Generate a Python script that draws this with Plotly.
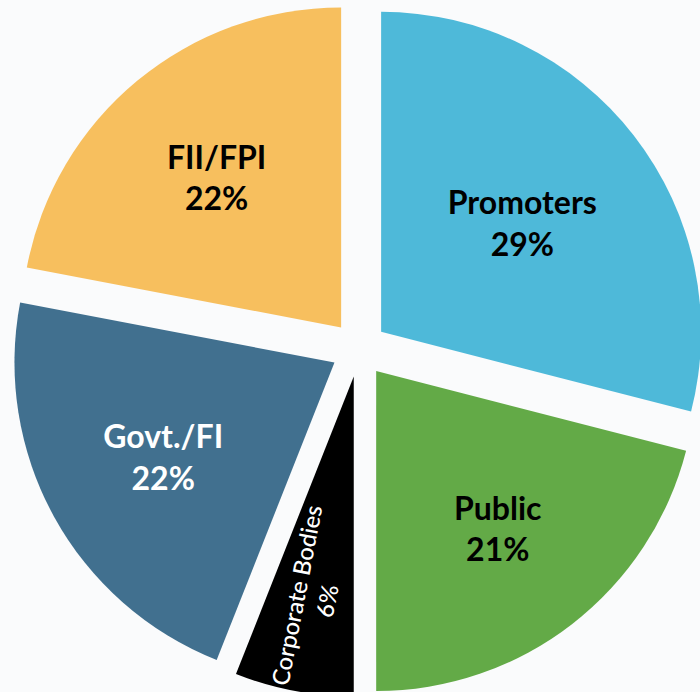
import plotly.graph_objects as go

# ---- data ----
labels = ["Promoters", "Public", "Corporate Bodies", "Govt./FI", "FII/FPI"]
values = [29, 21, 6, 22, 22]
colors = ["#4EB9D9", "#63AA47", "#000000", "#41708F", "#F7BF5E"]
text_colors = ["#000000", "#000000", "#FFFFFF", "#FFFFFF", "#000000"]

W, H = 760, 760
PULL = 0.0875
CX, CY, HALF = 359, 349, 348  # pie box centre / half size in page pixels

main_tpl = ["" if l == "Corporate Bodies" else "%{label}<br>%{percent:.0%}" for l in labels]
radial_tpl = ["%{label}<br>%{percent:.0%}" if l == "Corporate Bodies" else "" for l in labels]

dom_x = [(CX - HALF) / W, (CX + HALF) / W]
dom_y = [1 - (CY + HALF) / H, 1 - (CY - HALF) / H]

fig = go.Figure()
fig.add_trace(go.Pie(
    labels=labels, values=values, sort=False, direction="clockwise", rotation=0,
    pull=PULL, marker=dict(colors=colors, line=dict(width=0)),
    texttemplate=main_tpl, textposition="inside", insidetextorientation="horizontal",
    insidetextfont=dict(family="Lato", size=32, color=text_colors, weight="bold"),
    domain=dict(x=dom_x, y=dom_y), hoverinfo="label+percent", showlegend=False,
))
# text-only overlay for the thin slice, with its label written along the radius
fig.add_trace(go.Pie(
    labels=labels, values=values, sort=False, direction="clockwise", rotation=0,
    pull=0, marker=dict(colors=["rgba(0,0,0,0)"] * len(labels), line=dict(width=0)),
    texttemplate=radial_tpl, textposition="inside", insidetextorientation="radial",
    insidetextfont=dict(family="Lato", size=26, color=text_colors, weight=500),
    domain=dict(x=dom_x, y=dom_y), hoverinfo="skip", showlegend=False,
))
fig.update_layout(
    width=W, height=H, margin=dict(l=0, r=0, t=0, b=0),
    paper_bgcolor="#FAFBFC", showlegend=False,
)
fig.write_html(
    "out.html",
    post_script="document.body.style.margin='0px';document.body.style.overflow='hidden';",
)
